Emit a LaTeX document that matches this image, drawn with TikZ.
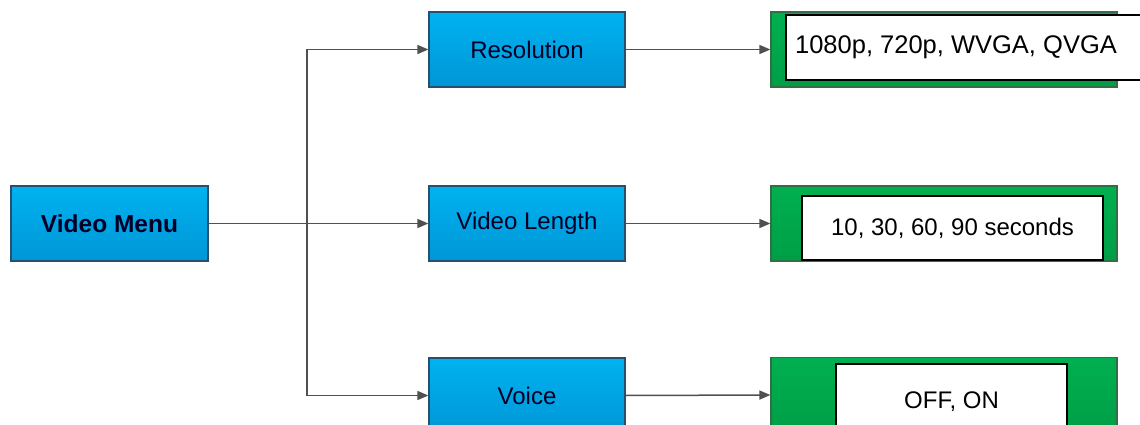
\documentclass[tikz,border=0pt]{standalone}
\usepackage{fontspec}
\setmainfont{Liberation Sans}
\usetikzlibrary{arrows.meta}
\definecolor{bluetop}{RGB}{0,178,240}
\definecolor{bluebot}{RGB}{0,150,214}
\definecolor{blueline}{RGB}{40,80,110}
\definecolor{greentop}{RGB}{0,176,80}
\definecolor{greenbot}{RGB}{0,158,70}
\definecolor{greenline}{RGB}{50,110,70}
\definecolor{arrowgray}{RGB}{80,80,80}
\tikzset{
  bluebox/.style={draw=blueline, line width=1.2pt, top color=bluetop, bottom color=bluebot,
    minimum width=196pt, minimum height=75pt, inner sep=0pt, text=black!85!blue,
    font=\fontsize{24}{28}\selectfont},
  greenbox/.style={draw=greenline, line width=1.2pt, top color=greentop, bottom color=greenbot,
    minimum width=346pt, minimum height=75pt, inner sep=0pt},
  whitebox/.style={draw=black, line width=1.6pt, fill=white, inner sep=0pt,
    font=\fontsize{24}{28}\selectfont},
  conn/.style={draw=arrowgray, line width=1.5pt, -{Triangle[length=11pt,width=9pt]}},
}
\begin{document}
\begin{tikzpicture}[x=1pt,y=-1pt]
\useasboundingbox (0,0) rectangle (1140,425);
% blue boxes
\node[bluebox, minimum width=197pt, font=\fontsize{24.5}{28}\selectfont\bfseries] (vm) at (109.5,223.5) {Video Menu};
\node[bluebox] (res) at (527,49.5) {Resolution};
\node[bluebox] (vl) at (527,223.5) {Video Length};
\node[bluebox] (voice) at (527,395.5) {Voice};
% green boxes
\node[greenbox] (g1) at (944,49.5) {};
\node[greenbox] (g2) at (944,223.5) {};
\node[greenbox] (g3) at (944,395) {};
% white boxes
\node[whitebox, minimum width=356pt, minimum height=65pt, font=\fontsize{25.5}{28}\selectfont] (w1) at (964,47.5) {\hspace*{-16pt}1080p, 720p, WVGA, QVGA};
\node[whitebox, minimum width=301pt, minimum height=64pt] (w2) at (952.5,228) {\raisebox{-5pt}{10, 30, 60, 90 seconds}};
\node[whitebox, minimum width=231pt, minimum height=76pt] (w3) at (951.5,402) {\raisebox{-2pt}{OFF, ON}};
% connectors
\coordinate (j) at (307,223.5);
\draw[conn] (vm.east) -- (vl.west);
\draw[conn] (j) |- (res.west);
\draw[conn] (j) |- (voice.west);
\draw[conn] (res.east) -- (g1.west);
\draw[conn] (vl.east) -- (g2.west);
\draw[conn] (voice.east) -- (g3.west);
\end{tikzpicture}
\end{document}
